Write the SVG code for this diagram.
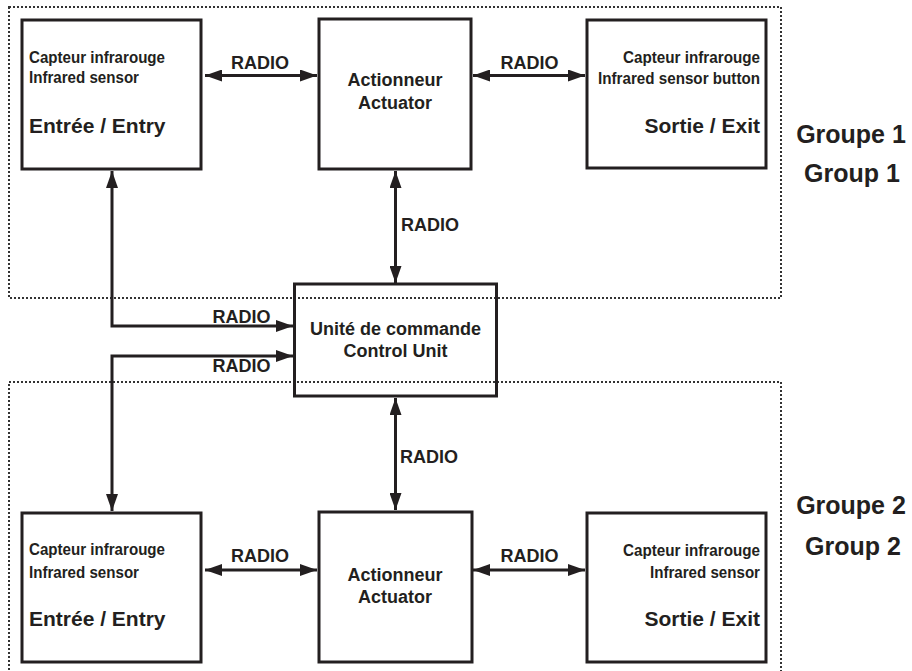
<svg xmlns="http://www.w3.org/2000/svg" width="912" height="671" viewBox="0 0 912 671">
<defs>
<style>
.grp{fill:none;stroke:#333;stroke-width:2;stroke-dasharray:2 2}
.box{fill:none;stroke:#231f20;stroke-width:3}
.con{fill:none;stroke:#231f20;stroke-width:3;marker-start:url(#ah);marker-end:url(#ah)}
text{font-family:"Liberation Sans",Arial,sans-serif;font-weight:bold;fill:#231f20}
.sm{font-family:"Liberation Sans Narrow","Liberation Sans",Arial,sans-serif;font-size:16.5px}
.big{font-size:21px}
.mid{font-size:18px}
.lab{font-size:18px}
.gl{font-size:25px;text-anchor:middle}
.c{text-anchor:middle}
.e{text-anchor:end}
</style>
<marker id="ah" viewBox="0 0 17 12" refX="17" refY="6" markerWidth="17" markerHeight="12" markerUnits="userSpaceOnUse" orient="auto-start-reverse">
<path d="M0,0 L17,6 L0,12 Z" fill="#231f20"/>
</marker>
</defs>
<rect width="912" height="671" fill="#fff"/>
<g id="group1">
<rect class="grp" x="9" y="7" width="772" height="291"/>
<text class="gl" x="851" y="143">Groupe 1</text>
<text class="gl" x="852" y="182">Group 1</text>
</g>
<g id="group2">
<rect class="grp" x="9" y="382" width="772" height="300"/>
<text class="gl" x="851" y="514">Groupe 2</text>
<text class="gl" x="853" y="555">Group 2</text>
</g>
<g id="connectors">
<path class="con" d="M205,75.5 H317"/>
<path class="con" d="M473,75.5 H585"/>
<path class="con" d="M395.5,171 V283"/>
<path class="con" d="M112,171 V326 H293"/>
<path class="con" d="M293,356 H112 V511"/>
<path class="con" d="M395.5,398 V510"/>
<path class="con" d="M205,570 H317"/>
<path class="con" d="M473,570 H585"/>
<text class="lab c" x="260" y="69">RADIO</text>
<text class="lab c" x="529.5" y="69">RADIO</text>
<text class="lab" x="401" y="231">RADIO</text>
<text class="lab c" x="241.5" y="323">RADIO</text>
<text class="lab c" x="241.5" y="372">RADIO</text>
<text class="lab" x="400" y="463">RADIO</text>
<text class="lab c" x="260" y="562">RADIO</text>
<text class="lab c" x="529.5" y="562">RADIO</text>
</g>
<g id="entry1">
<rect class="box" x="22" y="20" width="179" height="149"/>
<text class="sm" x="29" y="63" textLength="136" lengthAdjust="spacingAndGlyphs">Capteur infrarouge</text>
<text class="sm" x="29" y="83" textLength="110" lengthAdjust="spacingAndGlyphs">Infrared sensor</text>
<text class="big" x="29" y="133">Entrée / Entry</text>
</g>
<g id="actuator1">
<rect class="box" x="319" y="19" width="152" height="150"/>
<text class="mid c" x="395" y="86">Actionneur</text>
<text class="mid c" x="395" y="109">Actuator</text>
</g>
<g id="exit1">
<rect class="box" x="587" y="20" width="179" height="148"/>
<text class="sm e" x="760" y="63" textLength="137" lengthAdjust="spacingAndGlyphs">Capteur infrarouge</text>
<text class="sm e" x="760" y="84" textLength="162" lengthAdjust="spacingAndGlyphs">Infrared sensor button</text>
<text class="big e" x="760" y="133">Sortie / Exit</text>
</g>
<g id="control">
<rect class="box" x="294.5" y="284" width="202" height="112"/>
<text class="mid c" x="395.5" y="335">Unité de commande</text>
<text class="mid c" x="395.5" y="357">Control Unit</text>
</g>
<g id="entry2">
<rect class="box" x="22" y="513" width="179" height="149"/>
<text class="sm" x="29" y="555" textLength="136" lengthAdjust="spacingAndGlyphs">Capteur infrarouge</text>
<text class="sm" x="29" y="578" textLength="110" lengthAdjust="spacingAndGlyphs">Infrared sensor</text>
<text class="big" x="29" y="626">Entrée / Entry</text>
</g>
<g id="actuator2">
<rect class="box" x="319" y="512" width="153" height="150"/>
<text class="mid c" x="395" y="581">Actionneur</text>
<text class="mid c" x="395" y="603">Actuator</text>
</g>
<g id="exit2">
<rect class="box" x="587" y="513" width="179" height="149"/>
<text class="sm e" x="760" y="556" textLength="137" lengthAdjust="spacingAndGlyphs">Capteur infrarouge</text>
<text class="sm e" x="760" y="578" textLength="110" lengthAdjust="spacingAndGlyphs">Infrared sensor</text>
<text class="big e" x="760" y="626">Sortie / Exit</text>
</g>
</svg>
